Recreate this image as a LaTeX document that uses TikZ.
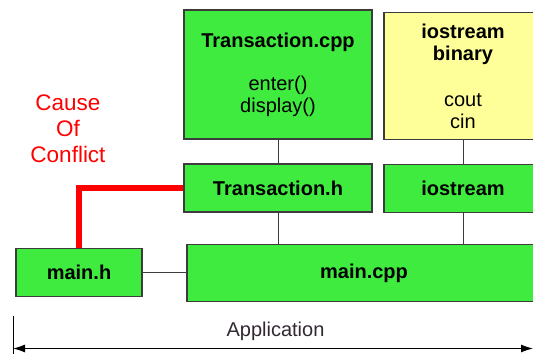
\documentclass[tikz,border=0pt]{standalone}
\usepackage{fontspec}
\setmainfont{Liberation Sans}
\usetikzlibrary{arrows.meta}
\definecolor{boxgreen}{RGB}{64,235,64}
\definecolor{boxyellow}{RGB}{255,255,153}
\definecolor{boxedge}{RGB}{60,60,60}
\definecolor{conflictred}{RGB}{255,0,0}
\definecolor{labelgray}{RGB}{50,40,50}
\tikzset{
  module/.style={draw=boxedge, line width=1.2pt, fill=boxgreen, rectangle,
    inner sep=0pt, align=center, font=\fontsize{20}{22}\selectfont},
  library/.style={module, fill=boxyellow},
  link/.style={draw=boxedge, line width=1pt},
  conflict/.style={draw=conflictred, line width=6pt},
  redtext/.style={text=conflictred, align=center, font=\fontsize{22.5}{26}\selectfont},
  span/.style={draw=black, line width=1pt, {Latex[length=12pt,width=8pt]}-{Latex[length=12pt,width=8pt]}},
}
\begin{document}
\begin{tikzpicture}[x=1pt,y=-1pt]
  \useasboundingbox (0,0) rectangle (533,354);
  \begin{scope}
    \clip (0,0) rectangle (533,354);
    % upper row: sources and binaries
    \node[module, minimum width=188pt, minimum height=129pt] (tcpp) at (278,74.5)
      {\textbf{Transaction.cpp}\\[21pt]enter()\\display()};
    \node[library, minimum width=158pt, minimum height=127pt] (iobin) at (463,76)
      {\textbf{iostream}\\\textbf{binary}\\[24pt]cout\\cin};
    % header row
    \node[module, minimum width=188pt, minimum height=48pt] (th) at (278,188)
      {\textbf{Transaction.h}};
    \node[module, minimum width=158pt, minimum height=48pt] (io) at (463,188.5)
      {\textbf{iostream}};
    % bottom row
    \node[module, minimum width=126pt, minimum height=48pt] (mh) at (79,272.5)
      {\textbf{main.h}};
    \node[module, minimum width=354pt, minimum height=57pt] (mcpp) at (364,273)
      {\textbf{main.cpp}};
    % dependency links
    \draw[link] (tcpp.south) -- (th.north);
    \draw[link] (iobin.south) -- (io.north);
    \draw[link] (th.south) -- (th.south |- mcpp.north);
    \draw[link] (io.south) -- (io.south |- mcpp.north);
    \draw[link] (mh.east) -- (mh.east -| mcpp.west);
    % conflicting include
    \coordinate (bend) at (79,188);
    \draw[conflict] (th.west) -- (bend) -- (mh.north);
    \node[redtext] (cause) at (68,129) {Cause\\Of\\Conflict};
    % application extent
    \coordinate (tickTop) at (13,316);
    \coordinate (tickBot) at (13,354);
    \coordinate (spanL) at (13,348.5);
    \coordinate (spanR) at (533,348.5);
    \draw[line width=1pt] (tickTop) -- (tickBot);
    \draw[span] (spanL) -- (spanR);
    \node[text=labelgray, font=\fontsize{20}{24}\selectfont] (app) at (275.5,331.5) {Application};
  \end{scope}
\end{tikzpicture}
\end{document}
